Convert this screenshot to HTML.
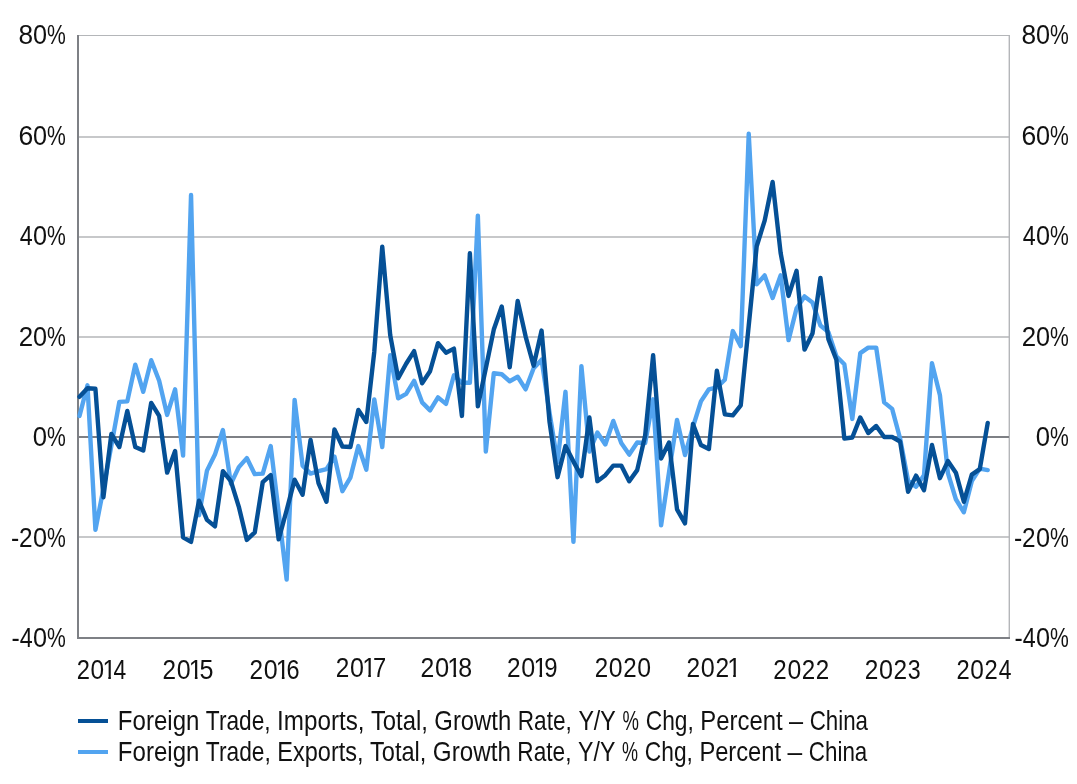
<!DOCTYPE html>
<html><head><meta charset="utf-8"><title>China Foreign Trade Growth</title>
<style>
html,body{margin:0;padding:0;background:#fff;}
body{width:1077px;height:784px;overflow:hidden;}
svg{display:block;will-change:transform;}
text{font-family:'Liberation Sans', Arial, sans-serif;font-size:26.9px;fill:#111111;}
</style></head>
<body>
<svg width="1077" height="784" viewBox="0 0 1077 784">
<line x1="78" y1="35.5" x2="1010" y2="35.5" stroke="#b4b6b9" stroke-width="1"/>
<line x1="78" y1="137" x2="1009.3" y2="137" stroke="#b4b6b9" stroke-width="1.4"/>
<line x1="78" y1="237" x2="1009.3" y2="237" stroke="#b4b6b9" stroke-width="1.4"/>
<line x1="78" y1="337" x2="1009.3" y2="337" stroke="#b4b6b9" stroke-width="1.4"/>
<line x1="78" y1="537" x2="1009.3" y2="537" stroke="#b4b6b9" stroke-width="1.4"/>
<line x1="1009.3" y1="35" x2="1009.3" y2="638" stroke="#b4b6b9" stroke-width="1.4"/>
<line x1="78" y1="437" x2="1009" y2="437" stroke="#7e8085" stroke-width="2"/>
<line x1="78" y1="35" x2="78" y2="639" stroke="#7e8085" stroke-width="2"/>
<line x1="77" y1="638" x2="1010" y2="638" stroke="#7e8085" stroke-width="2"/>
<polyline points="79.50,415.92 87.47,385.29 95.43,529.87 103.40,488.71 111.37,445.53 119.34,401.86 127.30,401.36 135.27,364.71 143.24,391.82 151.20,360.19 159.17,380.78 167.14,414.91 175.10,389.31 183.07,455.57 191.04,195.04 199.00,515.31 206.97,470.63 214.94,454.57 222.91,429.97 230.87,483.69 238.84,467.12 246.81,458.08 254.77,474.15 262.74,473.65 270.71,446.04 278.67,512.30 286.64,579.57 294.61,399.85 302.58,465.61 310.54,473.65 318.51,471.14 326.48,469.13 334.44,456.58 342.41,491.22 350.38,477.66 358.34,446.04 366.31,469.63 374.28,399.35 382.25,447.04 390.21,355.17 398.18,398.35 406.15,393.83 414.11,380.78 422.08,402.36 430.05,410.39 438.01,397.34 445.98,403.87 453.95,375.25 461.92,382.78 469.88,382.78 477.85,215.62 485.82,451.56 493.78,373.25 501.75,374.25 509.72,381.28 517.68,376.76 525.65,389.31 533.62,368.23 541.59,359.69 549.55,412.90 557.52,462.10 565.49,391.82 573.45,541.92 581.42,366.22 589.39,451.56 597.36,432.48 605.32,444.53 613.29,420.94 621.26,443.02 629.22,454.57 637.19,442.52 645.16,443.02 653.12,399.35 661.09,525.35 669.06,472.14 677.02,419.93 684.99,455.07 692.96,426.96 700.93,401.36 708.89,389.31 716.86,387.30 724.83,379.77 732.79,331.08 740.76,346.14 748.73,133.79 756.69,284.39 764.66,275.36 772.63,297.95 780.60,275.36 788.56,340.11 796.53,308.49 804.50,296.44 812.46,302.46 820.43,325.56 828.40,332.08 836.37,356.18 844.33,364.21 852.30,418.93 860.27,353.17 868.23,347.64 876.20,347.64 884.17,402.36 892.13,408.89 900.10,438.51 908.07,480.67 916.03,486.70 924.00,475.15 931.97,363.21 939.94,395.33 947.90,473.14 955.87,499.25 963.84,512.30 971.80,481.18 979.77,468.63 987.74,470.13" fill="none" stroke="#52a4f0" stroke-width="4.4" stroke-linejoin="round" stroke-linecap="round"/>
<polyline points="79.50,396.84 87.47,388.31 95.43,388.81 103.40,497.24 111.37,433.99 119.34,447.04 127.30,410.90 135.27,447.04 143.24,450.55 151.20,402.86 159.17,415.92 167.14,472.64 175.10,451.06 183.07,537.40 191.04,541.92 199.00,500.75 206.97,519.83 214.94,526.36 222.91,471.14 230.87,481.18 238.84,506.78 246.81,539.91 254.77,532.38 262.74,482.18 270.71,475.15 278.67,539.41 286.64,510.29 294.61,479.67 302.58,494.73 310.54,440.01 318.51,483.18 326.48,501.76 334.44,429.47 342.41,446.54 350.38,447.04 358.34,409.89 366.31,421.94 374.28,351.66 382.25,246.74 390.21,335.09 398.18,378.27 406.15,363.71 414.11,351.16 422.08,383.29 430.05,371.24 438.01,343.13 445.98,352.66 453.95,348.65 461.92,415.92 469.88,253.27 477.85,406.38 485.82,368.23 493.78,329.57 501.75,306.48 509.72,367.22 517.68,300.96 525.65,336.60 533.62,365.72 541.59,330.58 549.55,421.94 557.52,477.16 565.49,446.04 573.45,461.60 581.42,476.16 589.39,417.42 597.36,481.18 605.32,475.15 613.29,465.61 621.26,465.61 629.22,481.18 637.19,470.13 645.16,435.49 653.12,355.17 661.09,458.59 669.06,442.52 677.02,509.29 684.99,523.34 692.96,423.95 700.93,445.03 708.89,449.05 716.86,370.74 724.83,414.41 732.79,415.41 740.76,405.37 748.73,325.56 756.69,246.24 764.66,220.64 772.63,181.98 780.60,252.77 788.56,295.94 796.53,270.84 804.50,349.65 812.46,333.59 820.43,277.87 828.40,339.11 836.37,359.69 844.33,438.51 852.30,437.50 860.27,417.42 868.23,432.98 876.20,425.96 884.17,437.00 892.13,437.00 900.10,441.52 908.07,491.72 916.03,475.65 924.00,490.21 931.97,445.03 939.94,478.16 947.90,461.10 955.87,472.64 963.84,501.76 971.80,474.65 979.77,469.13 987.74,422.94" fill="none" stroke="#055096" stroke-width="4.4" stroke-linejoin="round" stroke-linecap="round"/>
<defs><clipPath id="c1" clipPathUnits="userSpaceOnUse"><path d="M-10,-40H30V-2.2H9.3V3H6.45V-2.2H-10Z"/></clipPath></defs>
<text transform="translate(18.54,44) scale(0.9762,1)">8</text><text transform="translate(32.99,44) scale(0.9386,1)">0</text><text transform="translate(47.12,44) scale(0.7855,1)">%</text>
<text transform="translate(1021.54,44) scale(0.9762,1)">8</text><text transform="translate(1035.99,44) scale(0.9386,1)">0</text><text transform="translate(1050.12,44) scale(0.7855,1)">%</text>
<text transform="translate(18.40,145) scale(0.9864,1)">6</text><text transform="translate(32.99,145) scale(0.9386,1)">0</text><text transform="translate(47.12,145) scale(0.7855,1)">%</text>
<text transform="translate(1021.40,145) scale(0.9864,1)">6</text><text transform="translate(1035.99,145) scale(0.9386,1)">0</text><text transform="translate(1050.12,145) scale(0.7855,1)">%</text>
<text transform="translate(19.65,245) scale(0.8637,1)">4</text><text transform="translate(32.99,245) scale(0.9386,1)">0</text><text transform="translate(47.12,245) scale(0.7855,1)">%</text>
<text transform="translate(1022.65,245) scale(0.8637,1)">4</text><text transform="translate(1035.99,245) scale(0.9386,1)">0</text><text transform="translate(1050.12,245) scale(0.7855,1)">%</text>
<text transform="translate(18.84,346) scale(0.9626,1)">2</text><text transform="translate(32.99,346) scale(0.9386,1)">0</text><text transform="translate(47.12,346) scale(0.7855,1)">%</text>
<text transform="translate(1021.84,346) scale(0.9626,1)">2</text><text transform="translate(1035.99,346) scale(0.9386,1)">0</text><text transform="translate(1050.12,346) scale(0.7855,1)">%</text>
<text transform="translate(32.77,446) scale(0.9544,1)">0</text><text transform="translate(47.12,446) scale(0.7855,1)">%</text>
<text transform="translate(1035.77,446) scale(0.9544,1)">0</text><text transform="translate(1050.12,446) scale(0.7855,1)">%</text>
<text transform="translate(11.04,547) scale(0.9184,1)">-</text><text transform="translate(18.93,547) scale(0.9055,1)">2</text><text transform="translate(32.99,547) scale(0.9386,1)">0</text><text transform="translate(47.12,547) scale(0.7855,1)">%</text>
<text transform="translate(1014.04,547) scale(0.9184,1)">-</text><text transform="translate(1021.93,547) scale(0.9055,1)">2</text><text transform="translate(1035.99,547) scale(0.9386,1)">0</text><text transform="translate(1050.12,547) scale(0.7855,1)">%</text>
<text transform="translate(11.44,647) scale(0.9184,1)">-</text><text transform="translate(19.65,647) scale(0.8637,1)">4</text><text transform="translate(32.99,647) scale(0.9386,1)">0</text><text transform="translate(47.12,647) scale(0.7855,1)">%</text>
<text transform="translate(1014.44,647) scale(0.9184,1)">-</text><text transform="translate(1022.65,647) scale(0.8637,1)">4</text><text transform="translate(1035.99,647) scale(0.9386,1)">0</text><text transform="translate(1050.12,647) scale(0.7855,1)">%</text>
<text transform="translate(76.76,679) scale(0.8818,1)">2</text><text transform="translate(90.56,679) scale(0.9073,1)">0</text><text transform="translate(102.45,679) scale(0.9055,1)" clip-path="url(#c1)">1</text><text transform="translate(113.56,679) scale(0.8492,1)">4</text>
<text transform="translate(162.53,679) scale(0.9040,1)">2</text><text transform="translate(176.68,679) scale(0.9303,1)">0</text><text transform="translate(188.87,679) scale(0.9283,1)" clip-path="url(#c1)">1</text><text transform="translate(199.49,679) scale(0.9344,1)">5</text>
<text transform="translate(249.53,679) scale(0.9043,1)">2</text><text transform="translate(263.68,679) scale(0.9305,1)">0</text><text transform="translate(275.87,679) scale(0.9286,1)" clip-path="url(#c1)">1</text><text transform="translate(286.59,679) scale(0.8716,1)">6</text>
<text transform="translate(335.82,677) scale(0.9062,1)">2</text><text transform="translate(350.01,677) scale(0.9325,1)">0</text><text transform="translate(362.23,677) scale(0.9305,1)" clip-path="url(#c1)">1</text><text transform="translate(372.95,677) scale(0.8818,1)">7</text>
<text transform="translate(420.50,677) scale(0.9209,1)">2</text><text transform="translate(434.92,677) scale(0.9476,1)">0</text><text transform="translate(447.33,677) scale(0.9457,1)" clip-path="url(#c1)">1</text><text transform="translate(458.31,677) scale(0.9281,1)">8</text>
<text transform="translate(507.02,677) scale(0.9061,1)">2</text><text transform="translate(521.21,677) scale(0.9324,1)">0</text><text transform="translate(533.42,677) scale(0.9305,1)" clip-path="url(#c1)">1</text><text transform="translate(544.19,677) scale(0.8898,1)">9</text>
<text transform="translate(594.74,677) scale(0.8966,1)">2</text><text transform="translate(608.77,677) scale(0.9226,1)">0</text><text transform="translate(623.17,677) scale(0.8966,1)">2</text><text transform="translate(637.21,677) scale(0.9226,1)">0</text>
<text transform="translate(686.52,677) scale(0.9110,1)">2</text><text transform="translate(700.78,677) scale(0.9374,1)">0</text><text transform="translate(715.41,677) scale(0.9110,1)">2</text><text transform="translate(727.15,677) scale(0.9355,1)" clip-path="url(#c1)">1</text>
<text transform="translate(773.34,679) scale(0.8984,1)">2</text><text transform="translate(787.40,679) scale(0.9245,1)">0</text><text transform="translate(801.83,679) scale(0.8984,1)">2</text><text transform="translate(815.72,679) scale(0.8984,1)">2</text>
<text transform="translate(864.72,679) scale(0.9086,1)">2</text><text transform="translate(878.94,679) scale(0.9350,1)">0</text><text transform="translate(893.54,679) scale(0.9086,1)">2</text><text transform="translate(907.79,679) scale(0.8640,1)">3</text>
<text transform="translate(956.46,679) scale(0.8834,1)">2</text><text transform="translate(970.28,679) scale(0.9090,1)">0</text><text transform="translate(984.47,679) scale(0.8834,1)">2</text><text transform="translate(998.84,679) scale(0.8508,1)">4</text>
<rect x="78" y="719" width="30" height="4" fill="#055096"/>
<rect x="78" y="750" width="30" height="4" fill="#52a4f0"/>
<text transform="translate(117.86,730) scale(0.8942,1)">Foreign</text><text transform="translate(205.87,730) scale(0.8432,1)">Trade,</text><text transform="translate(277.04,730) scale(0.9008,1)">Imports,</text><text transform="translate(370.94,730) scale(0.8864,1)">Total,</text><text transform="translate(434.34,730) scale(0.8872,1)">Growth</text><text transform="translate(517.78,730) scale(0.8406,1)">Rate,</text><text transform="translate(578.38,730) scale(0.8640,1)">Y/Y</text><text transform="translate(622.53,730) scale(0.6879,1)">%</text><text transform="translate(645.70,730) scale(0.8459,1)">Chg,</text><text transform="translate(700.27,730) scale(0.8883,1)">Percent</text><text transform="translate(789.08,730) scale(0.9420,1)">–</text><text transform="translate(809.73,730) scale(0.8295,1)">China</text>
<text transform="translate(117.86,761) scale(0.8942,1)">Foreign</text><text transform="translate(205.87,761) scale(0.8457,1)">Trade,</text><text transform="translate(277.30,761) scale(0.8746,1)">Exports,</text><text transform="translate(370.05,761) scale(0.8766,1)">Total,</text><text transform="translate(432.83,761) scale(0.9003,1)">Growth</text><text transform="translate(517.37,761) scale(0.8423,1)">Rate,</text><text transform="translate(578.09,761) scale(0.8592,1)">Y/Y</text><text transform="translate(622.05,761) scale(0.6696,1)">%</text><text transform="translate(644.80,761) scale(0.8459,1)">Chg,</text><text transform="translate(699.38,761) scale(0.8816,1)">Percent</text><text transform="translate(787.58,761) scale(0.9826,1)">–</text><text transform="translate(808.82,761) scale(0.8324,1)">China</text>
</svg>
</body></html>
